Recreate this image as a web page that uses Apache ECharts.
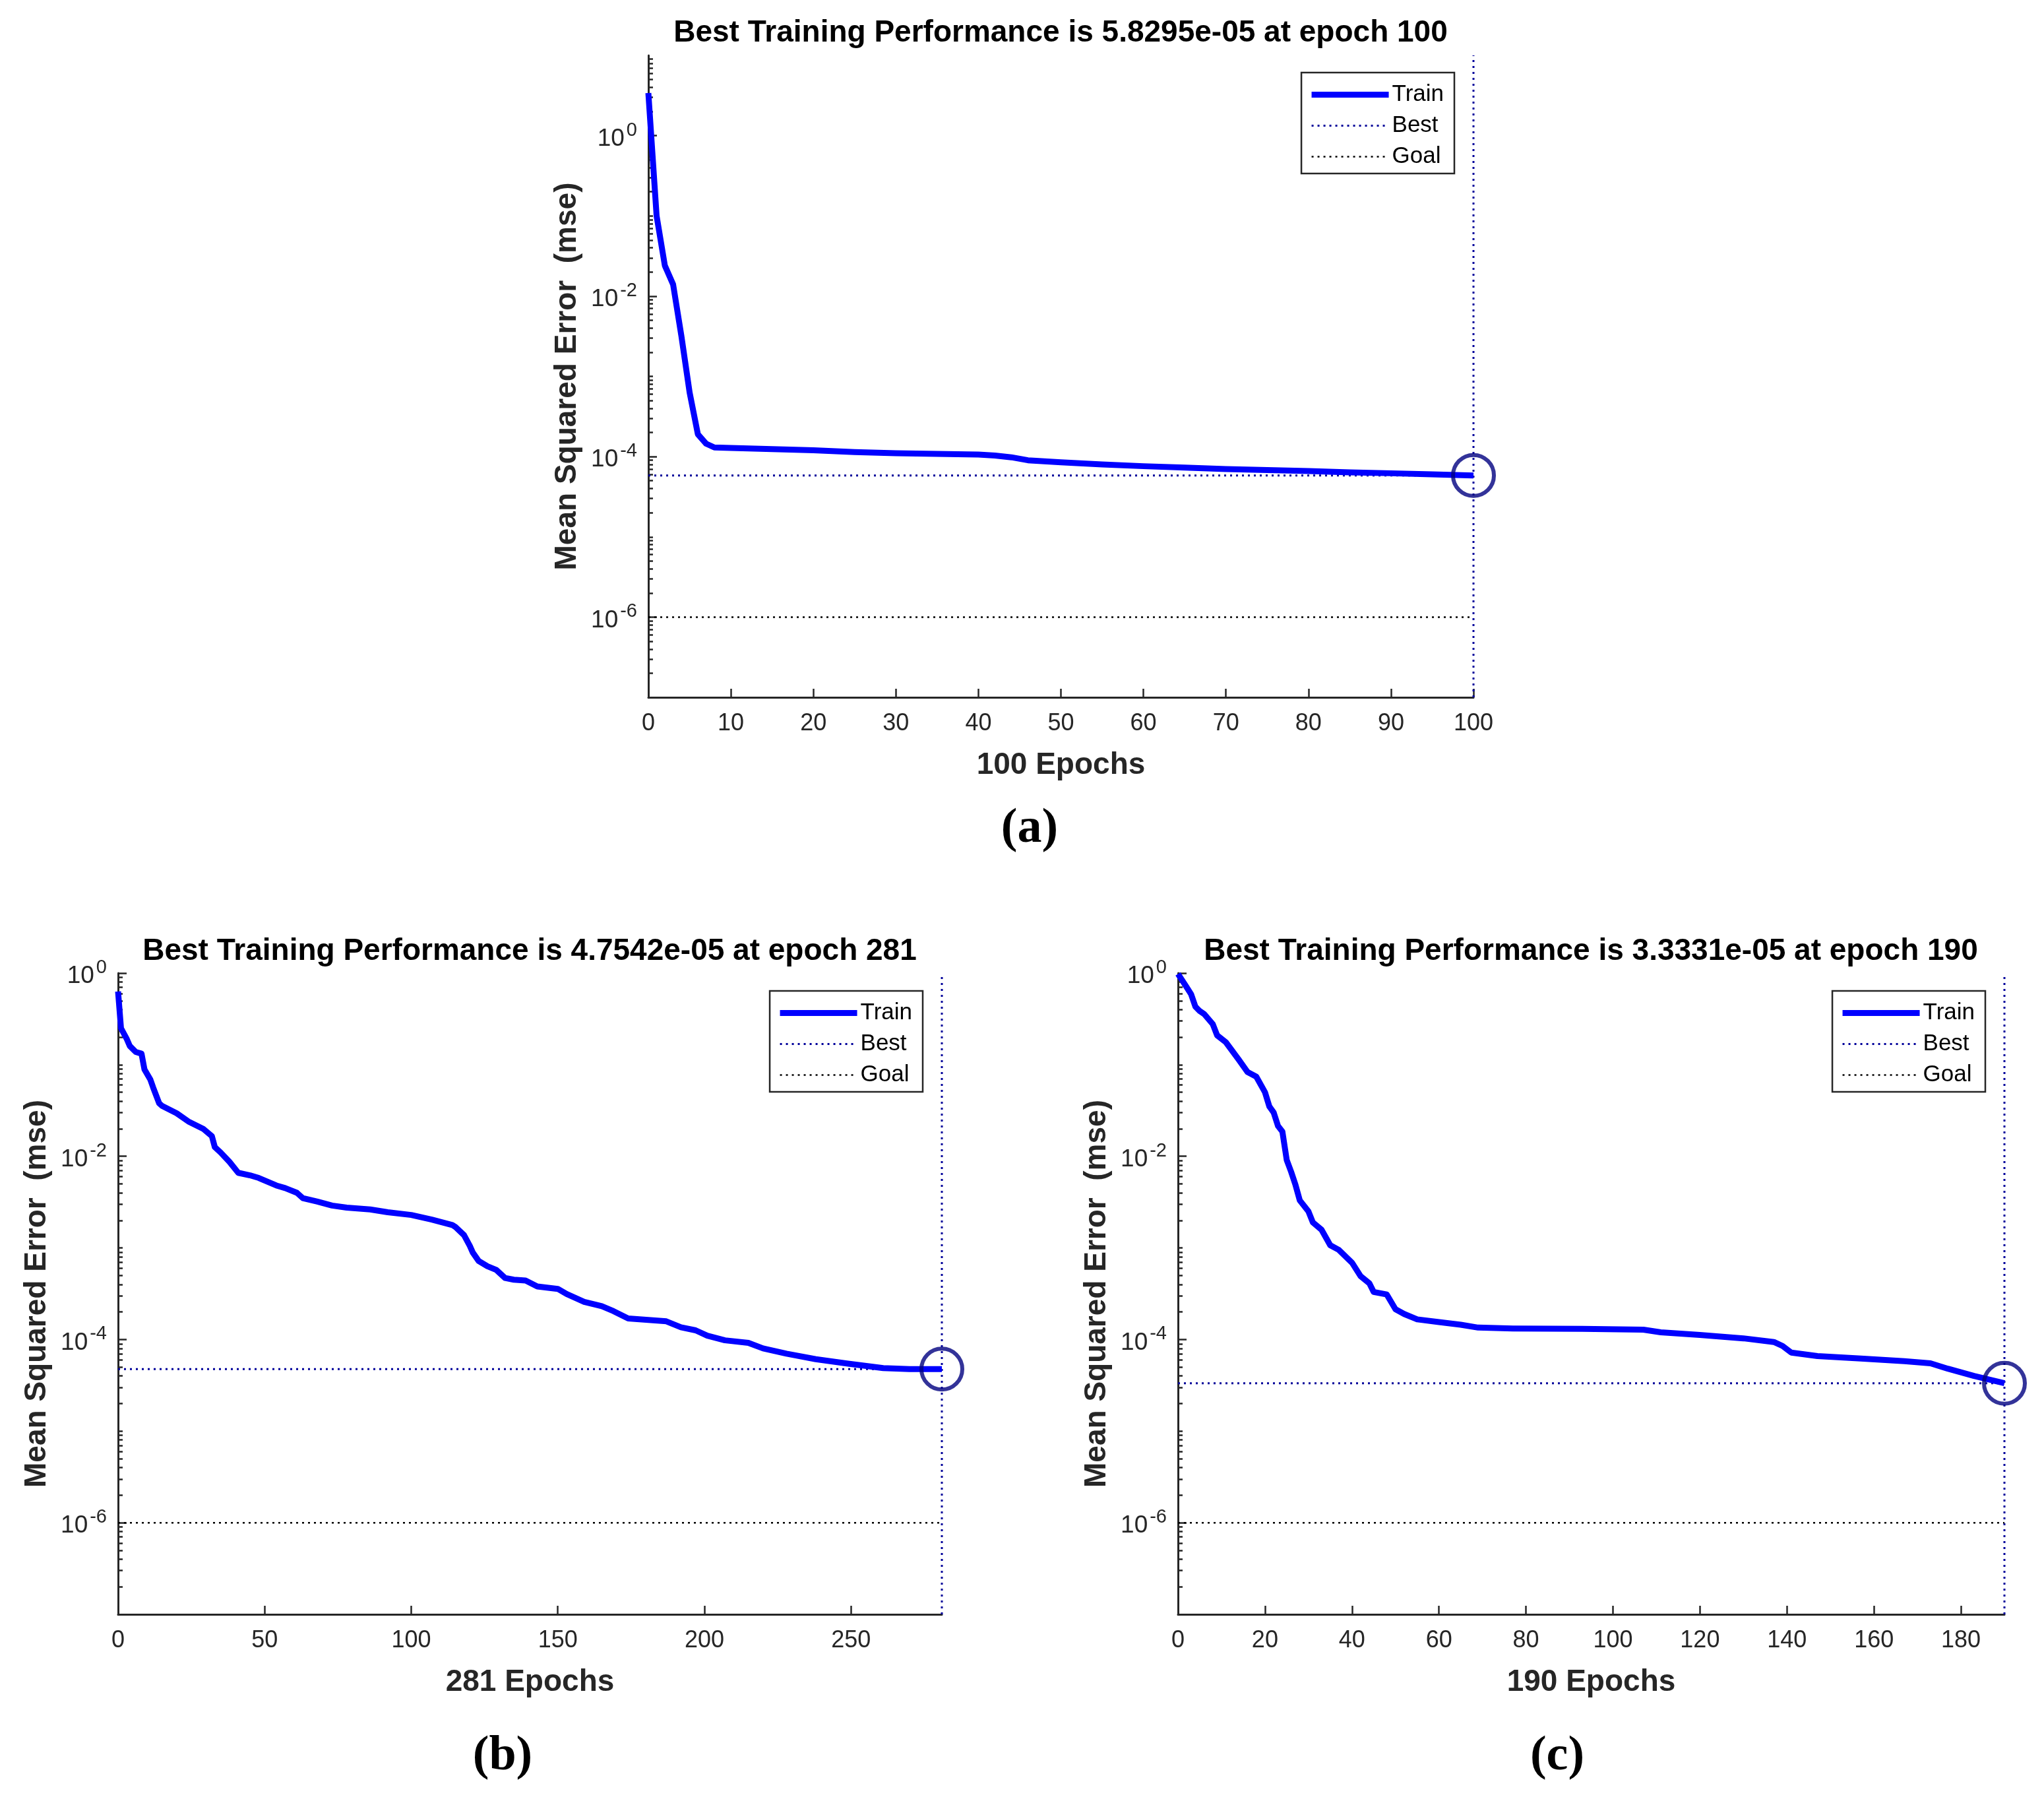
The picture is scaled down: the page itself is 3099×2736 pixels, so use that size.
<!DOCTYPE html>
<html>
<head>
<meta charset="utf-8">
<script src="https://cdn.jsdelivr.net/npm/echarts@6/dist/echarts.min.js"></script>
<style>html,body{margin:0;padding:0;background:#fff}#c{width:3099px;height:2736px}</style>
</head>
<body>
<div id="c"></div>
<script>
// ---------------- DATA ----------------
const epochsA = [0,1,2,3,4,5,6,7,8,10,15,20,25,30,35,40,42,44,46,50,55,60,65,70,75,80,85,90,95,100];
const mseA = [3.4,0.1,0.024,0.014,0.0032,6.3e-4,1.9e-4,1.45e-4,1.3e-4,1.28e-4,1.24e-4,1.2e-4,1.14e-4,1.1e-4,1.08e-4,1.06e-4,1.03e-4,9.8e-5,9.0e-5,8.5e-5,8.0e-5,7.6e-5,7.3e-5,7.0e-5,6.8e-5,6.6e-5,6.35e-5,6.2e-5,6.0e-5,5.8295e-5];

const epochsB = [0,1,3,4,6,8,9,11,12,14,15,20,24,29,32,33,35,38,41,45,48,54,57,61,63,68,73,78,86,92,100,107,114,115,118,120,121,123,126,129,132,135,139,143,150,153,159,165,169,174,187,192,197,201,207,215,220,228,238,249,261,270,281];
const mseB = [0.63,0.25,0.19,0.16,0.138,0.132,0.089,0.069,0.056,0.038,0.0355,0.0295,0.024,0.020,0.0166,0.0126,0.011,0.0087,0.0066,0.0062,0.0058,0.0048,0.0045,0.0040,0.0035,0.0032,0.0029,0.00275,0.00263,0.00245,0.00229,0.00204,0.00178,0.0017,0.00138,0.00105,8.9e-4,7.2e-4,6.3e-4,5.75e-4,4.7e-4,4.5e-4,4.4e-4,3.8e-4,3.57e-4,3.14e-4,2.58e-4,2.31e-4,2.04e-4,1.70e-4,1.58e-4,1.36e-4,1.26e-4,1.10e-4,9.8e-5,9.2e-5,8.0e-5,7.0e-5,6.1e-5,5.45e-5,4.88e-5,4.76e-5,4.7542e-5];

const epochsC = [0,2,3,4,5,6,8,9,11,14,16,18,20,21,22,23,24,25,26,27,28,30,31,33,35,37,40,42,44,45,48,50,52,55,60,65,69,77,93,107,111,120,130,137,139,141,147,157,167,173,177,183,190];
const mseC = [0.98,0.70,0.59,0.43,0.385,0.358,0.277,0.209,0.176,0.113,0.083,0.074,0.050,0.035,0.030,0.0214,0.0186,0.0091,0.0068,0.0049,0.0033,0.0025,0.0019,0.00158,0.00107,9.5e-4,6.9e-4,4.9e-4,4.1e-4,3.3e-4,3.1e-4,2.14e-4,1.9e-4,1.66e-4,1.55e-4,1.45e-4,1.35e-4,1.32e-4,1.31e-4,1.28e-4,1.2e-4,1.12e-4,1.03e-4,9.4e-5,8.5e-5,7.2e-5,6.6e-5,6.2e-5,5.8e-5,5.5e-5,4.8e-5,4.0e-5,3.3331e-5];

const bestEpochs = [100, 281, 190];
const bestValues = [5.8295e-05, 4.7542e-05, 3.3331e-05];
const goalValue = 1e-6;

const xTicksA = [0,10,20,30,40,50,60,70,80,90,100];
const xTicksB = [0,50,100,150,200,250];
const xTicksC = [0,20,40,60,80,100,120,140,160,180];
const yTickValues = [1e-6,1e-4,1e-2,1e0];

const titles = [
  'Best Training Performance is 5.8295e-05 at epoch 100',
  'Best Training Performance is 4.7542e-05 at epoch 281',
  'Best Training Performance is 3.3331e-05 at epoch 190'
];
const xNames = ['100 Epochs','281 Epochs','190 Epochs'];
const yName = 'Mean Squared Error  (mse)';
const panelLabels = ['(a)','(b)','(c)'];
const legendNames = ['Train','Best','Goal'];

// ---------------- LAYOUT / STYLE ----------------
const FONT = "'Liberation Sans', Arial, Helvetica, sans-serif";
const SERIF = "'Liberation Serif', 'Times New Roman', serif";
const AX = '#262626';
const BEST_C = '#00009a';

const panels = [
  {grid:{left:983, top:84, width:1251, height:973}, yMin:1e-7, yMax:10, xMax:100, xTicks:xTicksA, epochs:epochsA, mse:mseA,
   legend:{right:894, top:110}, titleX:1608, titleY:27, labelX:1561, labelY:1220},
  {grid:{left:179, top:1475, width:1249, height:972}, yMin:1e-7, yMax:1, xMax:281, xTicks:xTicksB, epochs:epochsB, mse:mseB,
   legend:{right:1700, top:1502}, titleX:803, titleY:1419, labelX:762, labelY:2626},
  {grid:{left:1786, top:1475, width:1253, height:972}, yMin:1e-7, yMax:1, xMax:190, xTicks:xTicksC, epochs:epochsC, mse:mseC,
   legend:{right:89, top:1502}, titleX:2412, titleY:1419, labelX:2361, labelY:2626}
];

function minorTicks(yMin, yMax, majors) {
  const out = [];
  for (let e = Math.round(Math.log10(yMin)); e <= Math.round(Math.log10(yMax)); e++) {
    for (let k = 1; k <= 9; k++) {
      const v = k * Math.pow(10, e);
      if (v <= yMin * 1.0001 || v >= yMax * 0.9999) continue;
      if (k === 1 && majors.some(m => Math.abs(Math.log10(m) - e) < 1e-9)) continue;
      out.push(v);
    }
  }
  return out;
}

const option = {
  backgroundColor: '#fff',
  animation: false,
  title: [], grid: [], xAxis: [], yAxis: [], legend: [], series: []
};

panels.forEach((p, i) => {
  option.grid.push(Object.assign({containLabel:false}, p.grid));
  option.title.push({
    text: titles[i], left: p.titleX, top: p.titleY, textAlign: 'center', padding: 0,
    textStyle: {fontFamily: FONT, fontSize: 46, fontWeight: 'bold', color: '#000'}
  });
  option.title.push({
    text: panelLabels[i], left: p.labelX, top: p.labelY, textAlign: 'center', padding: 0,
    textStyle: {fontFamily: SERIF, fontSize: 74, fontWeight: 'bold', color: '#000'}
  });
  option.xAxis.push({
    type: 'value', gridIndex: i, min: 0, max: p.xMax,
    axisLine: {show: true, onZero: false, lineStyle: {color: AX, width: 3}},
    axisTick: {show: true, inside: true, length: 13, lineStyle: {color: AX, width: 2.5}, customValues: p.xTicks},
    axisLabel: {show: true, customValues: p.xTicks, margin: 22, fontFamily: FONT, fontSize: 36, color: AX},
    splitLine: {show: false},
    name: xNames[i], nameLocation: 'middle', nameGap: 80,
    nameTextStyle: {fontFamily: FONT, fontSize: 46, fontWeight: 'bold', color: AX}
  });
  option.yAxis.push({
    type: 'log', logBase: 10, gridIndex: i, min: p.yMin, max: p.yMax, position: 'left',
    axisLine: {show: true, onZero: false, lineStyle: {color: AX, width: 3}},
    axisTick: {show: true, inside: true, length: 13, lineStyle: {color: AX, width: 2.5}, customValues: yTickValues},
    axisLabel: {
      show: true, customValues: yTickValues, margin: 17,
      formatter: v => '{b|10}{s|' + Math.round(Math.log10(v)) + '}',
      rich: {
        b: {fontFamily: FONT, fontSize: 37, color: AX, padding: [10, 0, 0, 0]},
        s: {fontFamily: FONT, fontSize: 29, color: AX, padding: [0, 0, 16, 3]}
      }
    },
    splitLine: {show: false},
    name: yName, nameLocation: 'middle', nameGap: 100, nameRotate: 90,
    nameTextStyle: {fontFamily: FONT, fontSize: 46, fontWeight: 'bold', color: AX}
  });
  option.yAxis.push({
    type: 'log', logBase: 10, gridIndex: i, min: p.yMin, max: p.yMax, position: 'left',
    axisLine: {show: false, onZero: false},
    axisTick: {show: true, inside: true, length: 7, lineStyle: {color: AX, width: 2.5}, customValues: minorTicks(p.yMin, p.yMax, yTickValues)},
    axisLabel: {show: false},
    splitLine: {show: false}
  });
  option.legend.push({
    data: legendNames, orient: 'vertical', right: p.legend.right, top: p.legend.top,
    padding: [16, 16, 8, 11], itemWidth: 117, itemHeight: 35, itemGap: 12,
    borderColor: AX, borderWidth: 2.5, backgroundColor: '#fff', borderRadius: 0,
    selectedMode: false,
    textStyle: {fontFamily: FONT, fontSize: 35, color: '#000'},
    lineStyle: {width: 'inherit', type: 'inherit'},
    itemStyle: {opacity: 0}
  });
  const xi = i, yi = 2 * i;
  option.series.push({
    name: 'Best', type: 'line', xAxisIndex: xi, yAxisIndex: yi, symbol: 'none', clip: false, z: 2,
    data: [[0, bestValues[i]], [p.xMax, bestValues[i]]],
    lineStyle: {color: BEST_C, width: 3, type: [3, 6]}, itemStyle: {color: BEST_C}
  });
  option.series.push({
    name: 'Best', type: 'line', xAxisIndex: xi, yAxisIndex: yi, symbol: 'none', clip: false, z: 2,
    data: [[bestEpochs[i], p.yMin], [bestEpochs[i], p.yMax]],
    lineStyle: {color: BEST_C, width: 3, type: [3, 6]}, itemStyle: {color: BEST_C}
  });
  option.series.push({
    name: 'Goal', type: 'line', xAxisIndex: xi, yAxisIndex: yi, symbol: 'none', clip: false, z: 2,
    data: [[0, goalValue], [p.xMax, goalValue]],
    lineStyle: {color: '#000', width: 2.5, type: [3, 6]}, itemStyle: {color: '#000'}
  });
  option.series.push({
    name: 'Train', type: 'line', xAxisIndex: xi, yAxisIndex: yi, symbol: 'none', clip: false, z: 3,
    data: p.epochs.map((e, k) => [e, p.mse[k]]),
    lineStyle: {color: '#0000ff', width: 9, join: 'round'}, itemStyle: {color: '#0000ff'}
  });
  option.series.push({
    name: 'BestPoint', type: 'scatter', xAxisIndex: xi, yAxisIndex: yi, clip: false, z: 4,
    data: [[bestEpochs[i], bestValues[i]]], symbol: 'circle', symbolSize: 62,
    itemStyle: {color: 'rgba(0,0,0,0)', borderColor: '#000080', borderWidth: 6}
  });
});

const chart = echarts.init(document.getElementById('c'), null, {renderer: 'canvas'});
chart.setOption(option);
</script>
</body>
</html>
